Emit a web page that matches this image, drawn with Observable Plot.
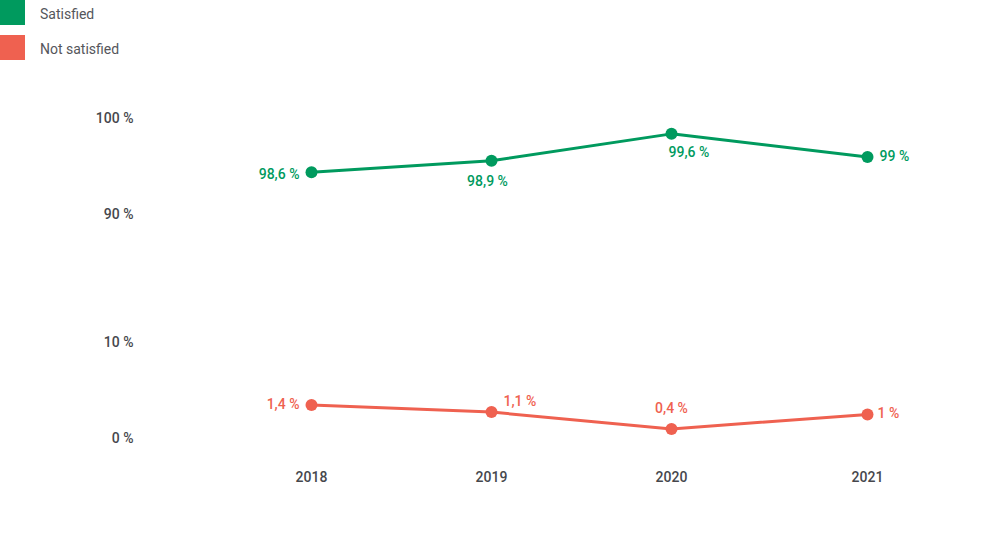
<!DOCTYPE html>
<html>
<head>
<meta charset="utf-8">
<script src="https://cdn.jsdelivr.net/npm/d3@7"></script>
<script src="https://cdn.jsdelivr.net/npm/@observablehq/plot@0.6"></script>
<style>
  html, body { margin: 0; padding: 0; background: #fff; width: 1005px; height: 545px; overflow: hidden; }
  body { font-family: Roboto, "Noto Sans", sans-serif; }
  #legend { height: 66px; position: relative; }
  .item { position: absolute; left: 0; display: flex; align-items: center; font-size: 14px; color: #55565b; }
  .sw { width: 25px; height: 25px; margin-right: 15px; }
  .item span { position: relative; top: 1px; }
  #chart svg { display: block; }
</style>
</head>
<body>
<div id="legend"></div>
<div id="chart"></div>
<script>
// ---- data ----
const years = [2018, 2019, 2020, 2021];
const satisfied = [98.6, 98.9, 99.6, 99];
const notSatisfied = [1.4, 1.1, 0.4, 1];
const seriesNames = ["Satisfied", "Not satisfied"];
const yTicks = [0, 10, 90, 100];

// ---- styling ----
const colors = {"Satisfied": "#009a5e", "Not satisfied": "#ef6150"};

// label placement per series/year (styling only)
const placement = {
  "Satisfied": {
    2018: {anchor: "end", dx: -12, dy: 2},
    2019: {anchor: "middle", dx: -4, dy: 21},
    2020: {anchor: "start", dx: -3, dy: 19},
    2021: {anchor: "start", dx: 12, dy: 0}
  },
  "Not satisfied": {
    2018: {anchor: "end", dx: -12, dy: 0},
    2019: {anchor: "start", dx: 12, dy: -11},
    2020: {anchor: "middle", dx: 0, dy: -20},
    2021: {anchor: "start", dx: 10, dy: -1}
  }
};

const rows = [];
years.forEach((yr, i) => {
  rows.push({series: seriesNames[0], year: yr, value: satisfied[i]});
  rows.push({series: seriesNames[1], year: yr, value: notSatisfied[i]});
});

const fmt = v => String(v).replace(".", ",") + " %";

// legend
const legend = document.getElementById("legend");
seriesNames.forEach((name, i) => {
  const item = document.createElement("div");
  item.className = "item";
  item.style.top = (i * 35) + "px";
  item.innerHTML = `<div class="sw" style="background:${colors[name]}"></div><span>${name}</span>`;
  legend.appendChild(item);
});

const W = 1005, H = 479;

// group labels by placement so dx/dy can be constants
const groups = d3.groups(rows, d => JSON.stringify(placement[d.series][d.year]));
const labelMarks = groups.map(([key, data]) => {
  const p = JSON.parse(key);
  return Plot.text(data, {
    x: "year", y: "value", text: d => fmt(d.value),
    fill: d => colors[d.series],
    textAnchor: p.anchor, dx: p.dx, dy: p.dy,
    fontSize: 14, fontWeight: 500
  });
});

const chart = Plot.plot({
  width: W,
  height: H,
  marginLeft: 140,
  marginRight: 0,
  marginTop: 0,
  marginBottom: 77,
  style: {fontFamily: "Roboto, 'Noto Sans', sans-serif", background: "#fff"},
  x: {type: "linear", domain: [2018, 2020, 2021], range: [311, 671, 867], axis: null},
  y: {type: "linear", domain: [0, 4, 10, 90, 97.5, 100], range: [372, 276, 276, 148, 148, 52], axis: null},
  color: {domain: seriesNames, range: seriesNames.map(s => colors[s])},
  marks: [
    Plot.axisY(yTicks, {anchor: "left", tickSize: 0, tickPadding: 7, tickFormat: d => d + " %",
      fontSize: 14, fontWeight: 500, fill: "#46474c", label: null}),
    Plot.axisX(years, {anchor: "bottom", tickSize: 0, tickPadding: 4, tickFormat: d => String(d),
      fontSize: 14, fontWeight: 500, fill: "#46474c", label: null}),
    Plot.line(rows, {x: "year", y: "value", z: "series", stroke: "series", strokeWidth: 3, curve: "linear"}),
    Plot.dot(rows, {x: "year", y: "value", fill: "series", r: 6, stroke: "none"}),
    ...labelMarks
  ]
});
document.getElementById("chart").appendChild(chart);
</script>
</body>
</html>
